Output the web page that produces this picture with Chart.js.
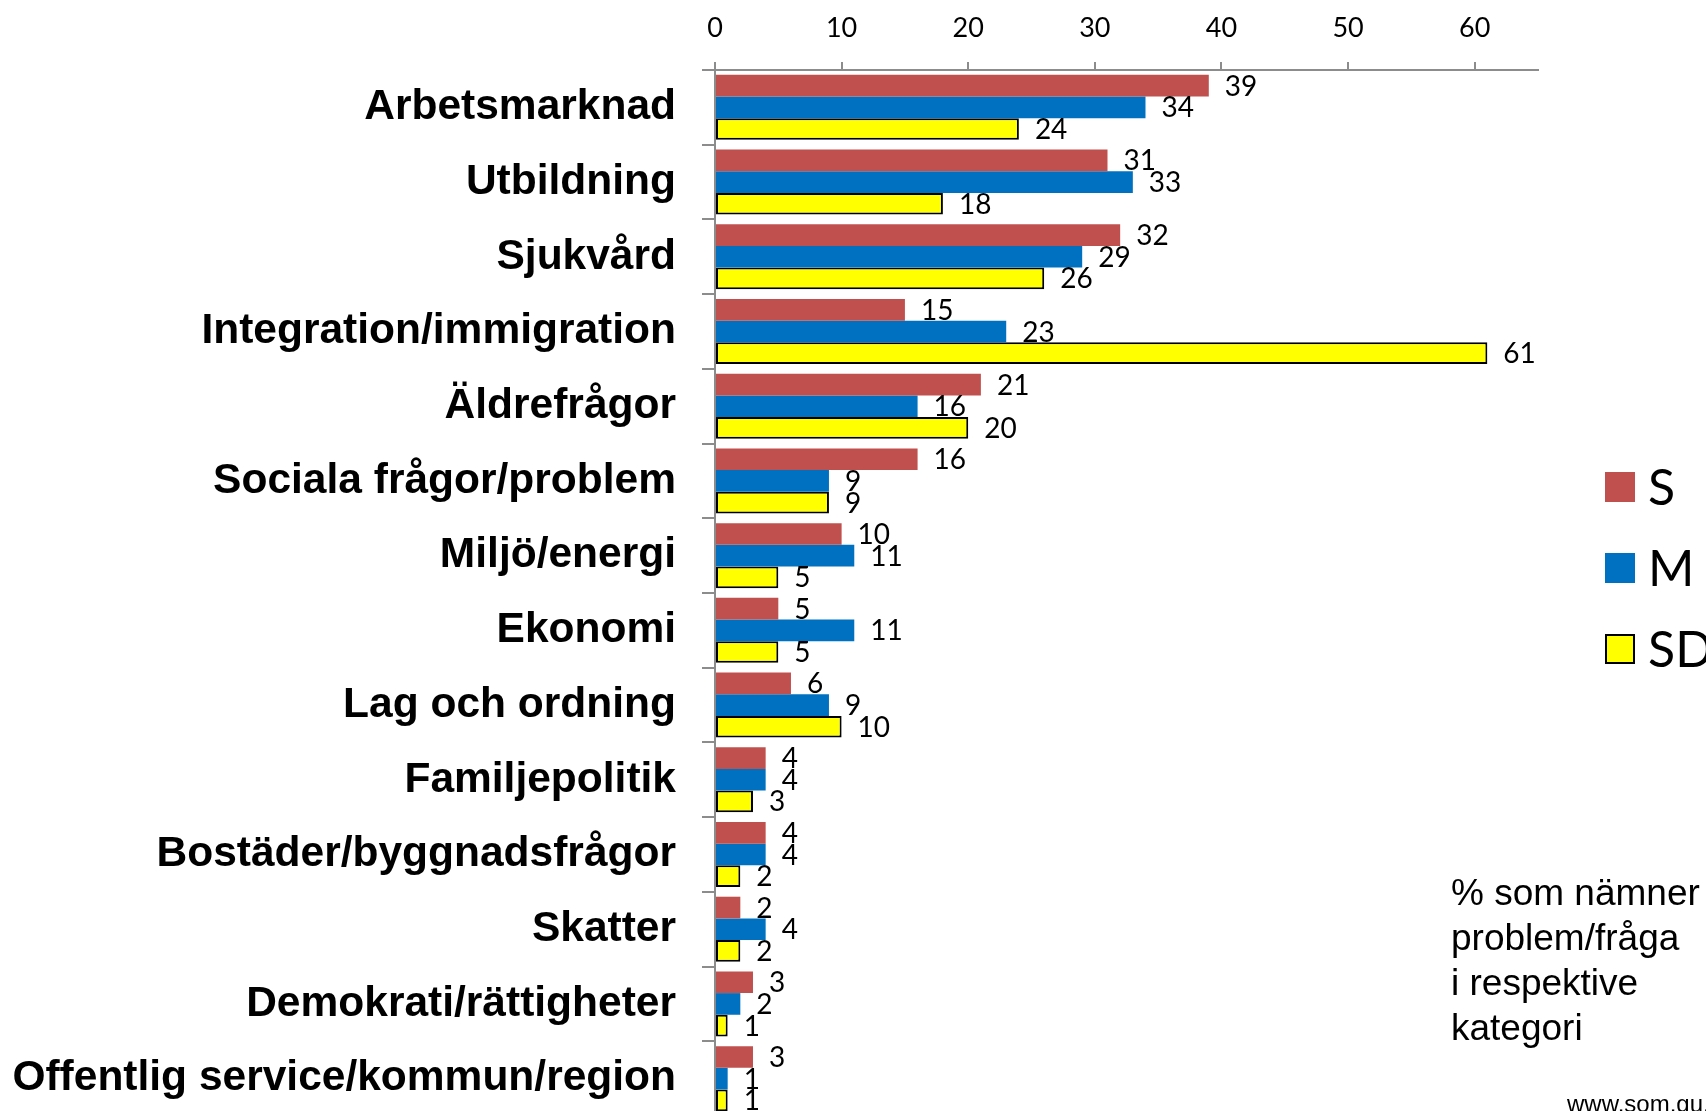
<!DOCTYPE html>
<html lang="sv">
<head>
<meta charset="utf-8">
<title>Viktigaste frågor per parti</title>
<script src="https://cdn.jsdelivr.net/npm/chart.js@4.4.1/dist/chart.umd.min.js"></script>
<style>
    html, body { margin: 0; padding: 0; background: #fff; overflow: hidden; }
    #wrap { position: relative; width: 1706px; height: 1120px; }
    #note {
        position: absolute; left: 1451px; top: 870px;
        font: 37px/45px "Liberation Sans", Arial, sans-serif; color: #000;
    }
    #url {
        position: absolute; left: 1567px; top: 1092px; white-space: nowrap;
        font: 24px/24px "Liberation Sans", Arial, sans-serif; color: #000;
    }
</style>
</head>
<body>
<div id="wrap">
    <canvas id="grafico"></canvas>
    <div id="note">% som nämner<br>problem/fråga<br>i respektive<br>kategori</div>
    <div id="url">www.som.gu.se</div>
</div>
<script>
// data
const categories = ['Arbetsmarknad', 'Utbildning', 'Sjukvård', 'Integration/immigration',
    'Äldrefrågor', 'Sociala frågor/problem', 'Miljö/energi', 'Ekonomi', 'Lag och ordning',
    'Familjepolitik', 'Bostäder/byggnadsfrågor', 'Skatter', 'Demokrati/rättigheter',
    'Offentlig service/kommun/region'];
const valoresS  = [39, 31, 32, 15, 21, 16, 10, 5, 6, 4, 4, 2, 3, 3];
const valoresM  = [34, 33, 29, 23, 16, 9, 11, 11, 9, 4, 4, 4, 2, 1];
const valoresSD = [24, 18, 26, 61, 20, 9, 5, 5, 10, 3, 2, 2, 1, 1];
const xTicks = [0, 10, 20, 30, 40, 50, 60];

const cinza = '#8c8c8c';

// rótulos com o valor ao lado de cada barra
const valueLabels = {
    id: 'valueLabels',
    afterDatasetsDraw(chart) {
        const ctx = chart.ctx;
        ctx.save();
        ctx.font = '28px Lato, sans-serif';
        ctx.fillStyle = '#000';
        ctx.textAlign = 'left';
        ctx.textBaseline = 'middle';
        chart.data.datasets.forEach((ds, i) => {
            chart.getDatasetMeta(i).data.forEach((bar, j) => {
                ctx.fillText(ds.data[j], bar.x + 16, bar.y + 1);
            });
        });
        ctx.restore();
    }
};

// legenda à direita, longe do eixo (como no original)
const legendaLateral = {
    id: 'legendaLateral',
    afterDraw(chart) {
        const ctx = chart.ctx;
        const x = 1605, y0 = 487, passo = 81, lado = 30;
        ctx.save();
        ctx.font = '50px Lato, sans-serif';
        ctx.textAlign = 'left';
        ctx.textBaseline = 'middle';
        chart.data.datasets.forEach((ds, i) => {
            const y = y0 + i * passo;
            ctx.fillStyle = ds.backgroundColor;
            ctx.fillRect(x, y - lado / 2, lado, lado);
            if (ds.borderWidth) {
                ctx.lineWidth = ds.borderWidth;
                ctx.strokeStyle = ds.borderColor;
                ctx.strokeRect(x + 1, y - lado / 2 + 1, lado - 2, lado - 2);
            }
            ctx.fillStyle = '#000';
            ctx.fillText(ds.label, x + 43, y + 2);
        });
        ctx.restore();
    }
};

const ctx = document.getElementById('grafico').getContext('2d');
const myChart = new Chart(ctx, {
    type: 'bar',
    data: {
        labels: categories,
        datasets: [{
            label: 'S',
            data: valoresS,
            backgroundColor: '#C0504D',
            borderWidth: 0
        }, {
            label: 'M',
            data: valoresM,
            backgroundColor: '#0070C0',
            borderWidth: 0
        }, {
            label: 'SD',
            data: valoresSD,
            backgroundColor: '#FFFF00',
            borderColor: '#000',
            borderWidth: 2,
            borderSkipped: false
        }]
    },
    options: {
        indexAxis: 'y',
        responsive: true,
        maintainAspectRatio: false,
        animation: false,
        categoryPercentage: 0.87,
        barPercentage: 1.0,
        layout: { padding: { left: 0, right: 168, top: 0, bottom: 4 } },
        plugins: {
            legend: { display: false },
            tooltip: { enabled: false }
        },
        scales: {
            x: {
                position: 'top',
                min: 0,
                max: 65,
                afterBuildTicks: (scale) => { scale.ticks = xTicks.map(v => ({ value: v })); },
                afterFit: (scale) => { scale.height = 70; },
                ticks: {
                    padding: 18,
                    color: '#000',
                    font: { family: 'Lato', size: 27 }
                },
                grid: {
                    drawOnChartArea: false,
                    drawTicks: true,
                    tickLength: 8,
                    color: cinza,
                    lineWidth: 2
                },
                border: { display: true, color: cinza, width: 2 }
            },
            y: {
                afterFit: (scale) => {
                    scale.width = 715;
                    scale.paddingTop = 0;
                    scale.paddingBottom = 0;
                },
                ticks: {
                    padding: 26,
                    color: '#000',
                    font: { family: 'Liberation Sans', size: 42.5, weight: 'bold' }
                },
                grid: {
                    offset: true,
                    drawOnChartArea: false,
                    drawTicks: true,
                    tickLength: 13,
                    color: cinza,
                    lineWidth: 2
                },
                border: { display: true, color: cinza, width: 2 }
            }
        }
    },
    plugins: [valueLabels, legendaLateral]
});
</script>
</body>
</html>
